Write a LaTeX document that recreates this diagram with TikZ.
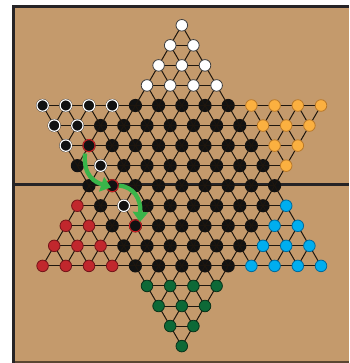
\documentclass[tikz,border=0pt]{standalone}
\usetikzlibrary{arrows.meta}
\definecolor{tanbg}{RGB}{196,154,108}
\definecolor{framec}{RGB}{38,36,38}
\definecolor{bottomc}{RGB}{90,70,50}
\definecolor{gridc}{RGB}{30,22,14}
\definecolor{holec}{RGB}{18,18,18}
\definecolor{whitec}{RGB}{255,255,255}
\definecolor{rimgray}{RGB}{60,60,60}
\definecolor{pyellow}{RGB}{251,176,64}
\definecolor{pyellowd}{RGB}{185,120,40}
\definecolor{pred}{RGB}{193,39,45}
\definecolor{predd}{RGB}{115,20,25}
\definecolor{pblue}{RGB}{0,174,239}
\definecolor{pblued}{RGB}{0,105,155}
\definecolor{pgreen}{RGB}{13,105,55}
\definecolor{pgreend}{RGB}{8,50,25}
\definecolor{agreen}{RGB}{57,181,74}
\definecolor{ringred}{RGB}{205,30,35}
\newcommand\cckIn[3]{\pgfmathtruncatemacro#1{(mod((#2)+(#3)+40,2)==0) && (((abs(#3)<=(#2)+8) && ((#2)<=4)) || ((abs(#3)<=8-(#2)) && ((#2)>=-4)))}}
\tikzset{
  hole/.style={circle,fill=holec,inner sep=0pt,minimum size=13.2pt},
  piece/.style={circle,inner sep=0pt,minimum size=11.6pt,line width=0.8pt},
  whitep/.style={piece,fill=whitec,draw=rimgray},
  yellowp/.style={piece,fill=pyellow,draw=pyellowd},
  redp/.style={piece,fill=pred,draw=predd},
  bluep/.style={piece,fill=pblue,draw=pblued},
  greenp/.style={piece,fill=pgreen,draw=pgreend},
  wpiece/.style={circle,inner sep=0pt,minimum size=11.4pt,fill=holec,draw=whitec,line width=1.2pt},
  rpiece/.style={circle,inner sep=0pt,minimum size=12pt,fill=holec,draw=ringred,line width=1pt},
  gridline/.style={draw=gridc,line width=1pt},
  framel/.style={draw=framec,line width=3.3pt},
  garrow/.style={draw=agreen,line width=4.3pt,-{Triangle[length=10pt,width=15pt]}},
}
\begin{document}
\begin{tikzpicture}[x=1pt,y=-1pt]
\useasboundingbox (0,0) rectangle (349,363);
\fill[whitec] (0,0) rectangle (349,363);
\fill[tanbg] (13,6.5) rectangle (349,363);
\draw[draw=bottomc,line width=1.6pt] (13.35,362.2) -- (349,362.2);
\draw[framel,line join=miter] (13.35,363) -- (13.35,6.65) -- (349,6.65);
\draw[framel] (13.35,184.4) -- (349,184.4);
% coordinates and holes
\foreach \r in {-8,...,8}{
  \foreach \k in {-12,...,12}{
    \cckIn\ok{\r}{\k}
    \ifnum\ok=1
      \pgfmathtruncatemacro\R{\r+8}
      \pgfmathtruncatemacro\K{\k+12}
      \coordinate (p\R-\K) at ({181.8+\k*11.6},{185.7+\r*20.05});
      \pgfmathtruncatemacro\cls{1*(\r<=-5) + 2*(\r>=5) + 3*((\r<=-1) && (\k<-(\r)-8)) + 4*((\r<=-1) && (\k>(\r)+8)) + 5*((\r>=1) && (\k<(\r)-8)) + 6*((\r>=1) && (\k>8-(\r)))}
      \ifnum\cls=0 \node[hole] (h\R-\K) at (p\R-\K) {};\fi
      \ifnum\cls=3 \node[hole] (h\R-\K) at (p\R-\K) {};\fi
    \fi
  }}
% grid lines
\foreach \r in {-8,...,8}{
  \foreach \k in {-12,...,12}{
    \cckIn\ok{\r}{\k}
    \ifnum\ok=1
      \pgfmathtruncatemacro\R{\r+8}
      \pgfmathtruncatemacro\K{\k+12}
      \pgfmathtruncatemacro\kk{\k+2}
      \cckIn\oka{\r}{\kk}
      \ifnum\oka=1
        \pgfmathtruncatemacro\Kn{\K+2}
        \draw[gridline] (p\R-\K) -- (p\R-\Kn);
      \fi
      \pgfmathtruncatemacro\rr{\r+1}
      \pgfmathtruncatemacro\km{\k-1}
      \pgfmathtruncatemacro\kp{\k+1}
      \pgfmathtruncatemacro\Rn{\R+1}
      \cckIn\okb{\rr}{\km}
      \ifnum\okb=1
        \pgfmathtruncatemacro\Kn{\K-1}
        \draw[gridline] (p\R-\K) -- (p\Rn-\Kn);
      \fi
      \cckIn\okc{\rr}{\kp}
      \ifnum\okc=1
        \pgfmathtruncatemacro\Kn{\K+1}
        \draw[gridline] (p\R-\K) -- (p\Rn-\Kn);
      \fi
    \fi
  }}
% coloured pieces
\foreach \r in {-8,...,8}{
  \foreach \k in {-12,...,12}{
    \cckIn\ok{\r}{\k}
    \ifnum\ok=1
      \pgfmathtruncatemacro\R{\r+8}
      \pgfmathtruncatemacro\K{\k+12}
      \pgfmathtruncatemacro\cls{1*(\r<=-5) + 2*(\r>=5) + 3*((\r<=-1) && (\k<-(\r)-8)) + 4*((\r<=-1) && (\k>(\r)+8)) + 5*((\r>=1) && (\k<(\r)-8)) + 6*((\r>=1) && (\k>8-(\r)))}
      \ifnum\cls=1 \node[whitep] (q\R-\K) at (p\R-\K) {};\fi
      \ifnum\cls=2 \node[greenp] (q\R-\K) at (p\R-\K) {};\fi
      \ifnum\cls=4 \node[yellowp] (q\R-\K) at (p\R-\K) {};\fi
      \ifnum\cls=5 \node[redp] (q\R-\K) at (p\R-\K) {};\fi
      \ifnum\cls=6 \node[bluep] (q\R-\K) at (p\R-\K) {};\fi
    \fi
  }}
% black pieces with white rims
\foreach \R/\K in {4/0,4/2,4/4,4/6,5/1,5/3,6/2,7/5,9/7}
  \node[wpiece] (w\R-\K) at (p\R-\K) {};
% jump positions with red rims
\foreach \R/\K in {6/4,8/6,10/8}
  \node[rpiece] (r\R-\K) at (p\R-\K) {};
% arrows
\coordinate (a1s) at (85,153.5);
\coordinate (a1e) at (111,187.5);
\coordinate (a2s) at (119,185.5);
\coordinate (a2e) at (140,222);
\draw[garrow] (a1s) .. controls (83,176) and (95,182) .. (a1e);
\draw[garrow] (a2s) .. controls (134,187) and (141,199) .. (a2e);
\end{tikzpicture}
\end{document}
